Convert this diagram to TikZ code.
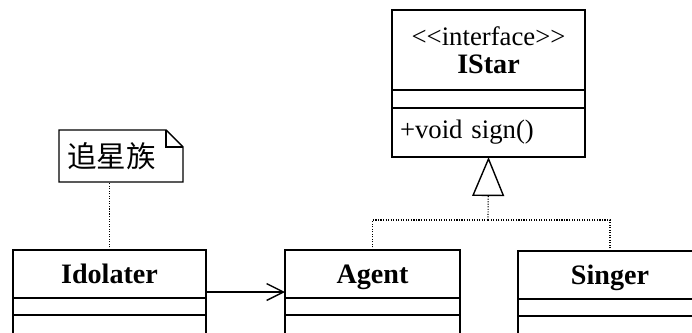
\documentclass[tikz,border=0pt]{standalone}
\usepackage{fontspec}
\setmainfont{Liberation Serif}
\newfontfamily\cjk{Noto Sans CJK SC}
\usetikzlibrary{positioning}
\usetikzlibrary{arrows.meta}
\tikzset{
  classhead/.style={draw, rectangle, outer sep=0pt, inner sep=0pt, anchor=north west},
  classname/.style={classhead, font=\fontsize{20}{22}\selectfont\bfseries, text height=15pt, text depth=1.8pt},
  compart/.style={draw, rectangle, outer sep=0pt, inner sep=0pt},
  notebox/.style={rectangle, outer sep=0pt, inner xsep=0.2cm, inner ysep=0pt, anchor=north west, align=left, font=\fontsize{21}{24}\selectfont\cjk},
  realize/.style={densely dotted, line width=0.8pt},
  assoc/.style={-{Straight Barb[length=0.42cm,width=0.42cm]}, line width=1pt},
}

\begin{document}
\begin{tikzpicture}[x=0.025cm, y=-0.025cm, line width=1pt]
\useasboundingbox (0,0) rectangle (692,332);
\clip (0,0) rectangle (692,332);
% -- interface --
\node[classhead, minimum width=4.825cm, minimum height=2cm, align=center, font=\fontsize{19}{20}\selectfont] (istar) at (392,10)
  {<\kern0pt<interface>\kern0pt>\\{\fontsize{20}{20}\selectfont\bfseries IStar}};
\node[compart, minimum width=4.825cm, minimum height=0.45cm, below=0pt of istar] (istar-attr) {};
\node[compart, minimum width=4.825cm, minimum height=1.225cm, inner xsep=0.2cm, text width=4.425cm, align=left,
  font=\fontsize{19}{20}\selectfont, below=0pt of istar-attr] (istar-ops) {+void sign()};
% -- classes --
\node[classname, minimum width=4.825cm, minimum height=1.2cm] (idolater) at (13,250) {Idolater};
\node[compart, minimum width=4.825cm, minimum height=0.425cm, below=0pt of idolater] (idolater-attr) {};
\node[compart, minimum width=4.825cm, minimum height=1cm, below=0pt of idolater-attr] (idolater-ops) {};
\node[classname, minimum width=4.375cm, minimum height=1.2cm] (agent) at (285,250) {Agent};
\node[compart, minimum width=4.375cm, minimum height=0.425cm, below=0pt of agent] (agent-attr) {};
\node[compart, minimum width=4.375cm, minimum height=1cm, below=0pt of agent-attr] (agent-ops) {};
\node[classname, minimum width=4.6cm, minimum height=1.2cm] (singer) at (518,251) {Singer};
\node[compart, minimum width=4.6cm, minimum height=0.425cm, below=0pt of singer] (singer-attr) {};
\node[compart, minimum width=4.6cm, minimum height=1cm, below=0pt of singer-attr] (singer-ops) {};
% -- note --
\node[notebox, minimum width=3.1cm, minimum height=1.3cm, text width=2.7cm] (note) at (59,130) {追星族};
\draw (note.north west) -- ([xshift=-0.425cm]note.north east) -- ([yshift=-0.425cm]note.north east)
  -- (note.south east) -- (note.south west) -- cycle;
\draw ([xshift=-0.425cm]note.north east) |- ([yshift=-0.425cm]note.north east);
% -- connectors --
\coordinate (junc) at (488,220);
\draw[realize] (agent.north) |- (junc);
\draw[realize] (singer.north) |- (junc);
\draw[realize, -{Triangle[open, length=0.975cm, width=0.8cm, line width=1pt]}] (junc) -- (istar-ops.south);
\draw[realize] (idolater.north) -- (idolater.north |- note.south);
\draw[assoc] ([yshift=0.15cm]idolater.south east) -- ([yshift=0.15cm]agent.south west);
\end{tikzpicture}
\end{document}
